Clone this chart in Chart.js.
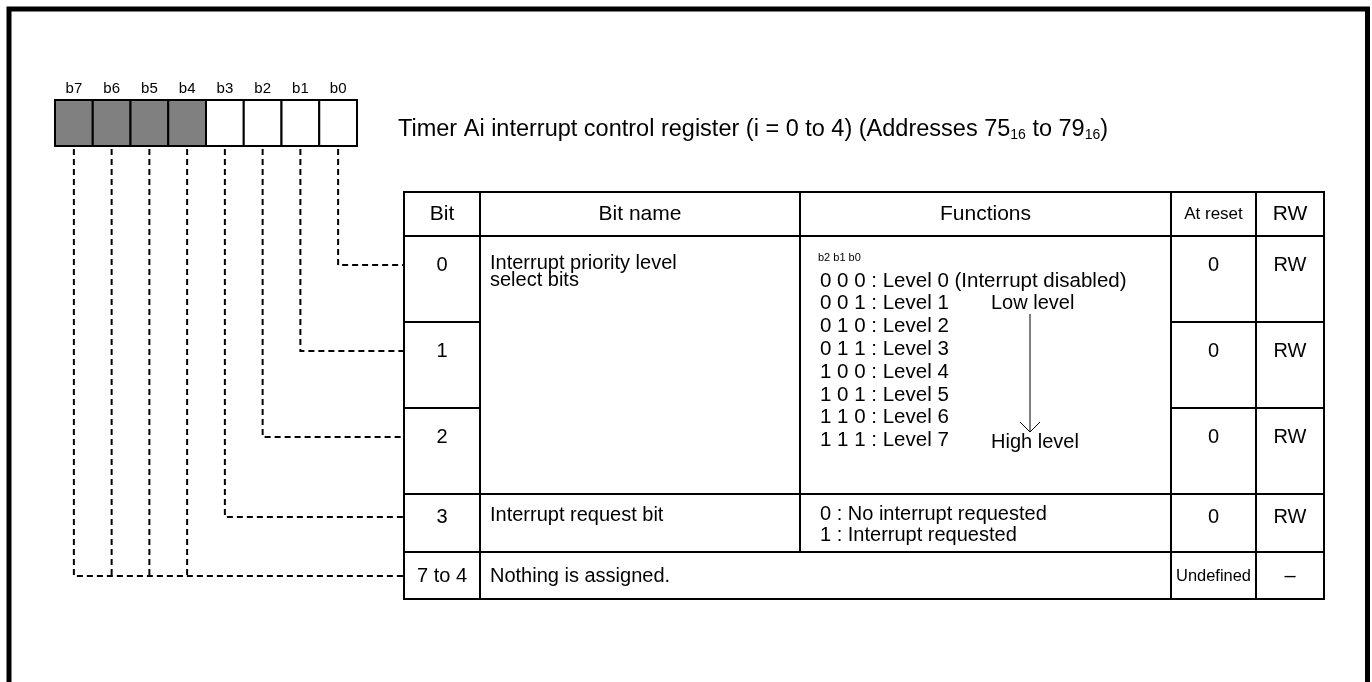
<!DOCTYPE html>
<html>
<head>
    <title>Timer Ai interrupt control register</title>
    <script src="https://cdn.jsdelivr.net/npm/chart.js"></script>
    <style>
        body {
            margin: 0;
            background-color: #fff;
        }
        canvas {
            display: block;
        }
    </style>
</head>
<body>
    <canvas id="regChart" width="1372" height="682"></canvas>

    <script>
        // register bits, left to right
        const bitLabels = ['b7', 'b6', 'b5', 'b4', 'b3', 'b2', 'b1', 'b0'];
        const bitReserved = [true, true, true, true, false, false, false, false];
        const bitRow = [4, 4, 4, 4, 3, 2, 1, 0]; // table row each bit points at

        // table
        const headers = ['Bit', 'Bit name', 'Functions', 'At reset', 'RW'];
        const rowBits = ['0', '1', '2', '3', '7 to 4'];
        const resetValues = ['0', '0', '0', '0', 'Undefined'];
        const rwValues = ['RW', 'RW', 'RW', 'RW', '\u2013'];
        const priorityName = ['Interrupt priority level', 'select bits'];
        const requestName = 'Interrupt request bit';
        const unassignedName = 'Nothing is assigned.';
        const levelHeader = 'b2 b1 b0';
        const levelCodes = ['0 0 0', '0 0 1', '0 1 0', '0 1 1', '1 0 0', '1 0 1', '1 1 0', '1 1 1'];
        const levelNames = ['Level 0 (Interrupt disabled)', 'Level 1', 'Level 2', 'Level 3',
                            'Level 4', 'Level 5', 'Level 6', 'Level 7'];
        const levelEnds = ['Low level', 'High level'];
        const requestCodes = ['0', '1'];
        const requestNames = ['No interrupt requested', 'Interrupt requested'];
        // title pieces: [text, isSubscript]
        const titleParts = [['Timer Ai interrupt control register (i = 0 to 4) (Addresses 75', false],
                            ['16', true], [' to 79', false], ['16', true], [')', false]];

        // layout (in the scale units of the hidden axes = pixels)
        const W = 1372, H = 682;
        const FONT = "'Liberation Sans', Arial, sans-serif";
        const reg = { left: 55, right: 357, top: 100, bottom: 146, labelY: 89 };
        const colEdges = [404, 480, 800, 1171, 1256, 1324];
        const rowEdges = [192, 236, 322, 408, 494, 552, 599];
        const headerY = 214;
        const rowTextY = [265, 351, 437, 517, 576];
        const levelTop = 281, levelStep = 22.8;

        const bitW = (reg.right - reg.left) / bitLabels.length;
        const bitCenter = i => reg.left + bitW * (i + 0.5);

        // dashed connectors, one dataset per bit
        const connectors = bitLabels.map((lbl, i) => {
            const row = bitRow[i];
            const y = rowTextY[row];
            const leftmost = bitRow.indexOf(row) === i;
            const pts = [{ x: bitCenter(i), y: reg.bottom + 3 }, { x: bitCenter(i), y: y }];
            if (leftmost) pts.push({ x: colEdges[0], y: y });
            return {
                label: lbl,
                data: pts,
                showLine: true,
                borderColor: '#000',
                borderWidth: 2,
                borderDash: [6, 4],
                pointRadius: 0,
                fill: false,
                tension: 0
            };
        });

        const registerPlugin = {
            id: 'register',
            beforeDatasetsDraw(chart) {
                const c = chart.ctx;
                const X = v => chart.scales.x.getPixelForValue(v);
                const Y = v => chart.scales.y.getPixelForValue(v);

                function text(str, x, y, size, align, maxW) {
                    c.font = size + 'px ' + FONT;
                    c.textAlign = align || 'left';
                    c.textBaseline = 'middle';
                    c.fillStyle = '#000';
                    if (maxW) c.fillText(str, X(x), Y(y), maxW);
                    else c.fillText(str, X(x), Y(y));
                }
                function line(x1, y1, x2, y2, w) {
                    c.beginPath();
                    c.lineWidth = w || 2;
                    c.strokeStyle = '#000';
                    c.moveTo(X(x1), Y(y1));
                    c.lineTo(X(x2), Y(y2));
                    c.stroke();
                }

                c.save();
                // outer frame (bottom edge runs off the page)
                c.lineWidth = 5;
                c.strokeStyle = '#000';
                c.strokeRect(X(9), Y(9), X(1367.5) - X(9), Y(H + 10) - Y(9));

                // register boxes
                bitLabels.forEach((lbl, i) => {
                    const x0 = reg.left + bitW * i;
                    c.fillStyle = bitReserved[i] ? '#808080' : '#fff';
                    c.fillRect(X(x0), Y(reg.top), X(x0 + bitW) - X(x0), Y(reg.bottom) - Y(reg.top));
                    c.lineWidth = 2;
                    c.strokeRect(X(x0), Y(reg.top), X(x0 + bitW) - X(x0), Y(reg.bottom) - Y(reg.top));
                    text(lbl, bitCenter(i), reg.labelY, 15, 'center');
                });

                // title with subscripts
                let tx = 398;
                titleParts.forEach(([s, sub]) => {
                    const size = sub ? 14 : 23.5;
                    text(s, tx, sub ? 135 : 130, size, 'left');
                    c.font = size + 'px ' + FONT;
                    tx += c.measureText(s).width;
                });

                // table grid
                const [c0, c1, c2, c3, c4, c5] = colEdges;
                const [r0, r1, r2, r3, r4, r5, r6] = rowEdges;
                [r0, r1, r4, r5, r6].forEach(y => line(c0 - 1, y, c5 + 1, y));
                [r2, r3].forEach(y => { line(c0, y, c1, y); line(c3, y, c5, y); });
                [c0, c1, c3, c4, c5].forEach(x => line(x, r0, x, r6));
                line(c2, r0, c2, r5);

                // header
                headers.forEach((h, i) => {
                    const mid = (colEdges[i] + colEdges[i + 1]) / 2;
                    text(h, mid, headerY, h === 'At reset' ? 17 : 21, 'center');
                });

                // bit / reset / rw columns
                rowBits.forEach((b, i) => {
                    text(b, (c0 + c1) / 2, rowTextY[i], 20, 'center');
                    if (i === 4) text(resetValues[i], (c3 + c4) / 2, rowTextY[i], 17, 'center', c4 - c3 - 10);
                    else text(resetValues[i], (c3 + c4) / 2, rowTextY[i], 20, 'center');
                    text(rwValues[i], (c4 + c5) / 2, rowTextY[i], 20, 'center');
                });

                // bit names
                text(priorityName[0], 490, 263, 20);
                text(priorityName[1], 490, 280, 20);
                text(requestName, 490, rowTextY[3] - 2, 20);
                text(unassignedName, 490, rowTextY[4], 20);

                // priority levels
                text(levelHeader, 818, 258, 11);
                levelCodes.forEach((code, i) => {
                    text(code + ' : ' + levelNames[i], 820, levelTop + levelStep * i, 20.5);
                });
                text(levelEnds[0], 991, levelTop + levelStep, 20);
                text(levelEnds[1], 991, levelTop + levelStep * 7 + 2, 20);
                // low -> high arrow
                line(1030, 314, 1030, 432, 1);
                line(1020, 422, 1030, 432, 1);
                line(1040, 422, 1030, 432, 1);

                // interrupt request
                requestCodes.forEach((code, i) => {
                    text(code + ' : ' + requestNames[i], 820, 514 + 21 * i, 20);
                });
                c.restore();
            }
        };

        const ctx = document.getElementById('regChart').getContext('2d');
        new Chart(ctx, {
            type: 'scatter',
            data: { datasets: connectors },
            options: {
                responsive: false,
                animation: false,
                events: [],
                layout: { padding: 0 },
                plugins: {
                    legend: { display: false },
                    tooltip: { enabled: false }
                },
                scales: {
                    x: { type: 'linear', min: 0, max: W, display: false },
                    y: { type: 'linear', min: 0, max: H, reverse: true, display: false }
                }
            },
            plugins: [registerPlugin]
        });
    </script>
</body>
</html>
